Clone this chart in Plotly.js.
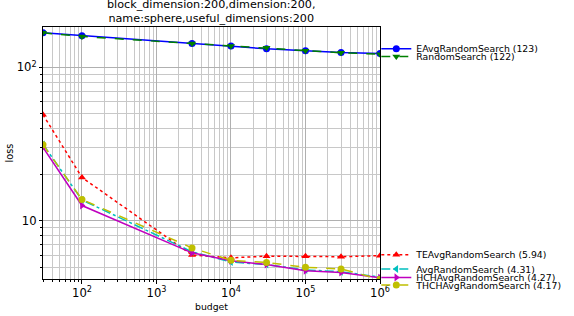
<!DOCTYPE html>
<html><head><meta charset="utf-8">
<script src="https://cdn.plot.ly/plotly-3.0.1.min.js"></script>
<style>body{margin:0;padding:0;background:#fff}#chart{width:574px;height:316px}</style>
</head><body><div id="chart"></div>
<script>
const budgets = [30, 100, 3000, 10000, 30000, 100000, 300000, 1000000];
const eavgRandomSearch = [168, 161, 143, 138, 132, 128.5, 125, 123];
const randomSearch = [168, 159, 143, 138, 134, 128.5, 124.5, 122];
const teAvgRandomSearch = [49.2, 19.2, 6.0, 5.75, 5.9, 5.9, 5.85, 5.94];
const avgRandomSearch = [31.5, 13.7, 6.3, 5.4, 5.2, 4.8, 4.67, 4.31];
const hchAvgRandomSearch = [30.1, 12.6, 6.2, 5.5, 5.2, 4.74, 4.62, 4.27];
const thchAvgRandomSearch = [31.4, 13.8, 6.67, 5.54, 5.37, 4.99, 4.87, 4.17];
const names = ["EAvgRandomSearch (123)", "RandomSearch (122)", "TEAvgRandomSearch (5.94)",
  "AvgRandomSearch (4.31)", "HCHAvgRandomSearch (4.27)", "THCHAvgRandomSearch (4.17)"];
const titleText = "block_dimension:200,dimension:200,<br>name:sphere,useful_dimensions:200";

const series = [eavgRandomSearch, randomSearch, teAvgRandomSearch, avgRandomSearch, hchAvgRandomSearch, thchAvgRandomSearch];
const styles = [
  {color:'#0000ff', dash:'solid', symbol:'circle'},
  {color:'#008000', dash:'dash', symbol:'triangle-down'},
  {color:'#ff0000', dash:'dot', symbol:'triangle-up'},
  {color:'#00bfbf', dash:'dashdot', symbol:'triangle-left'},
  {color:'#bf00bf', dash:'solid', symbol:'triangle-right'},
  {color:'#bfbf00', dash:'dash', symbol:'circle'}
];
const legendIds = ['legend','legend2','legend3','legend4','legend5','legend6'];
const legendY = [0.914, 0.883, 0.0964, 0.0397, 0.0063, -0.0238];

const traces = series.map((v,i)=>({
  x: budgets, y: v, name: names[i], type:'scatter', mode:'lines+markers',
  line:{color:styles[i].color, dash:styles[i].dash, width:1.5},
  marker:{color:styles[i].color, symbol:styles[i].symbol, size:7},
  legend: legendIds[i], showlegend:true
}));

const font = {family:'DejaVu Sans, sans-serif', size:9.3, color:'#000'};
const layout = {
  width:574, height:316,
  margin:{l:43, r:194, t:27, b:37, pad:0, autoexpand:false},
  paper_bgcolor:'#fff', plot_bgcolor:'#fff',
  font: font,
  title:{text:titleText, font:{family:'DejaVu Sans, sans-serif', size:11.2, color:'#000'},
    x:0.368, xanchor:'center', yref:'container', y:0.975, yanchor:'top'},
  xaxis:{type:'log', range:[Math.log10(30), 6], showline:true, mirror:true, linecolor:'#000', linewidth:1,
    ticks:'outside', ticklen:3.5, tickcolor:'#000', dtick:1, exponentformat:'power',
    showgrid:true, gridcolor:'#b0b0b0', gridwidth:1, zeroline:false, tickfont:font,
    minor:{ticks:'outside', ticklen:2, tickcolor:'#000', showgrid:true, gridcolor:'#c8c8c8', gridwidth:1, dtick:'D1'},
    title:{text:'budget', font:font, standoff:4}},
  yaxis:{type:'log', range:[0.622, 2.263], showline:true, mirror:true, linecolor:'#000', linewidth:1,
    ticks:'outside', ticklen:3.5, tickcolor:'#000', dtick:1, exponentformat:'power',
    showgrid:true, gridcolor:'#b0b0b0', gridwidth:1, zeroline:false, tickfont:font,
    minor:{ticks:'outside', ticklen:2, tickcolor:'#000', showgrid:true, gridcolor:'#c8c8c8', gridwidth:1, dtick:'D1'},
    title:{text:'loss', font:{family:'DejaVu Sans, sans-serif', size:9.8, color:'#000'}, standoff:1}},
  showlegend:true
};
legendIds.forEach((id,i)=>{
  layout[id] = {x:0.989, xanchor:'left', y:legendY[i], yanchor:'middle', bgcolor:'rgba(0,0,0,0)',
    font:font, itemwidth:30, borderwidth:0, tracegroupgap:0};
});
Plotly.newPlot('chart', traces, layout, {displayModeBar:false, staticPlot:true});
</script></body></html>
